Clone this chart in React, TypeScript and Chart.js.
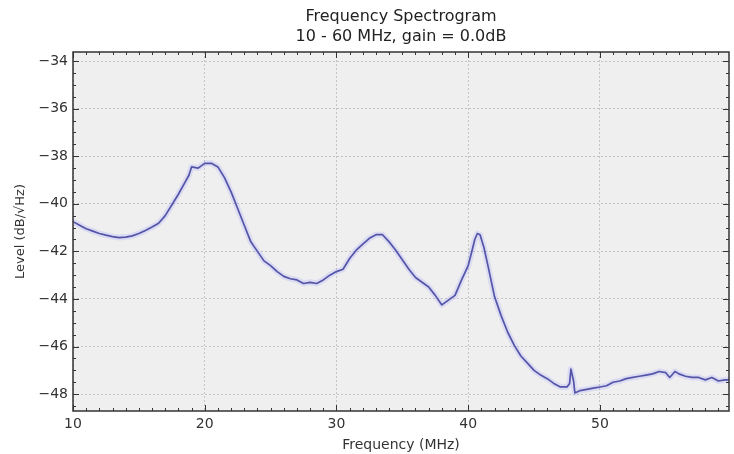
import React, { useEffect, useRef } from "react";
import { Chart, registerables } from "chart.js";

Chart.register(...registerables);

// Frequency (MHz) and level (dB/√Hz)
const freqMHz = [
  10.0, 10.5, 11.0, 11.5, 12.0, 12.5, 13.0, 13.5, 14.0, 14.5,
  15.0, 15.5, 16.0, 16.5, 17.0, 17.5, 18.0, 18.5, 18.8, 19.0,
  19.5, 20.0, 20.5, 21.0, 21.5, 22.0, 22.5, 23.0, 23.5, 24.0,
  24.5, 25.0, 25.5, 26.0, 26.5, 27.0, 27.5, 28.0, 28.5, 29.0,
  29.5, 30.0, 30.5, 31.0, 31.5, 32.0, 32.5, 33.0, 33.5, 34.0,
  34.5, 35.0, 35.5, 36.0, 36.5, 37.0, 37.5, 38.0, 38.5, 39.0,
  39.5, 40.0, 40.3, 40.5, 40.7, 40.9, 41.2, 41.5, 42.0, 42.5, 43.0, 43.5,
  44.0, 44.5, 45.0, 45.5, 46.0, 46.5, 47.0, 47.5, 47.7, 47.8,
  48.0, 48.1, 48.5, 49.0, 49.5, 50.0, 50.5, 51.0, 51.5, 52.0,
  52.5, 53.0, 53.5, 54.0, 54.5, 55.0, 55.3, 55.7, 56.0, 56.5,
  57.0, 57.5, 58.0, 58.5, 59.0, 59.5, 59.8,
];
const levelDb = [
  -40.75, -40.9, -41.05, -41.15, -41.25, -41.32, -41.38, -41.42, -41.4, -41.35,
  -41.25, -41.12, -40.98, -40.82, -40.5, -40.05, -39.6, -39.1, -38.8, -38.45,
  -38.5, -38.3, -38.3, -38.45, -38.9, -39.5, -40.2, -40.9, -41.6, -42.0,
  -42.4, -42.6, -42.85, -43.05, -43.15, -43.2, -43.35, -43.3, -43.35, -43.2,
  -43.0, -42.85, -42.75, -42.3, -41.95, -41.7, -41.45, -41.3, -41.3, -41.6,
  -41.95, -42.35, -42.75, -43.1, -43.3, -43.5, -43.85, -44.25, -44.05, -43.85,
  -43.2, -42.6, -41.95, -41.5, -41.25, -41.3, -41.85, -42.6, -43.9, -44.7, -45.4, -45.95,
  -46.4, -46.7, -47.0, -47.2, -47.35, -47.55, -47.7, -47.7, -47.55, -46.95,
  -47.45, -47.95, -47.85, -47.8, -47.75, -47.7, -47.65, -47.5, -47.45, -47.35,
  -47.3, -47.25, -47.2, -47.15, -47.05, -47.1, -47.3, -47.05, -47.15, -47.25,
  -47.3, -47.3, -47.4, -47.3, -47.45, -47.4, -47.4,
];

const xTickValues = [10, 20, 30, 40, 50];
const yTickValues = [-34, -36, -38, -40, -42, -44, -46, -48];

const titleLines = ["Frequency Spectrogram", "10 - 60 MHz, gain = 0.0dB"];
const xLabel = "Frequency (MHz)";
const yLabel = "Level (dB/\u221AHz)";

const FONT = "'DejaVu Sans', sans-serif";

const plotBackground = {
  id: "plotBackground",
  beforeDraw(chart: any) {
    const { ctx, chartArea: a } = chart;
    ctx.save();
    ctx.fillStyle = "#efefef";
    ctx.fillRect(a.left, a.top, a.right - a.left, a.bottom - a.top);
    ctx.restore();
  },
};

const frameTicks = {
  id: "frameTicks",
  afterDraw(chart: any) {
    const { ctx, chartArea: a, scales } = chart;
    const xs = scales.x;
    const ys = scales.y;
    ctx.save();
    ctx.strokeStyle = "#333";
    ctx.lineWidth = 1;
    const seg = (x1: number, y1: number, x2: number, y2: number) => {
      ctx.beginPath();
      ctx.moveTo(x1, y1);
      ctx.lineTo(x2, y2);
      ctx.stroke();
    };
    for (let v = Math.ceil(xs.min); v <= xs.max; v += 1) {
      const px = Math.round(xs.getPixelForValue(v)) + 0.5;
      const len = v % 10 === 0 ? 6 : 3;
      seg(px, a.bottom, px, a.bottom - len);
      seg(px, a.top, px, a.top + len);
    }
    for (let v = -48.5; v <= ys.max; v += 0.5) {
      const py = Math.round(ys.getPixelForValue(v)) + 0.5;
      const len = Math.abs(v % 2) < 1e-6 ? 6 : 3;
      seg(a.left, py, a.left + len, py);
      seg(a.right, py, a.right - len, py);
    }
    ctx.lineWidth = 1.5;
    ctx.strokeRect(a.left, a.top, a.right - a.left, a.bottom - a.top);
    ctx.restore();
  },
};

export default function App() {
  const ref = useRef<HTMLCanvasElement | null>(null);

  useEffect(() => {
    if (!ref.current) return;
    const points = freqMHz.map((f, i) => ({ x: f, y: levelDb[i] }));
    const chart = new Chart(ref.current, {
      type: "line",
      data: {
        datasets: [
          {
            data: points,
            borderColor: "#5454a8",
            borderWidth: 1.7,
            borderJoinStyle: "round",
            pointRadius: 0,
            tension: 0,
            order: 0,
          },
          {
            data: points,
            borderColor: "rgba(150,150,255,0.22)",
            borderWidth: 6,
            borderJoinStyle: "round",
            borderCapStyle: "round",
            pointRadius: 0,
            tension: 0,
            order: 1,
          },
        ],
      },
      options: {
        responsive: false,
        animation: false,
        devicePixelRatio: 1,
        layout: { padding: { left: 0, right: 5, top: 0, bottom: 0 } },
        plugins: {
          legend: { display: false },
          tooltip: { enabled: false },
          title: {
            display: true,
            fullSize: false,
            text: titleLines,
            color: "#222",
            font: { family: FONT, size: 16, weight: "normal", lineHeight: 1.25 },
            padding: { top: 7, bottom: 5 },
          },
        },
        scales: {
          x: {
            type: "linear",
            min: 10,
            max: 59.8,
            afterBuildTicks: (s: any) => {
              s.ticks = xTickValues.map((v) => ({ value: v }));
            },
            afterFit: (s: any) => {
              s.height = 43;
            },
            grid: { color: "#c4c4c4", lineWidth: 1, drawTicks: false },
            border: { display: false, dash: [2, 2] },
            ticks: {
              color: "#333",
              padding: 5,
              maxRotation: 0,
              font: { family: FONT, size: 14 },
              callback: (v: any) => String(v),
            },
            title: {
              display: true,
              text: xLabel,
              color: "#333",
              font: { family: FONT, size: 14 },
              padding: { top: 0, bottom: 0 },
            },
          },
          y: {
            type: "linear",
            min: -48.71,
            max: -33.62,
            afterBuildTicks: (s: any) => {
              s.ticks = yTickValues.map((v) => ({ value: v }));
            },
            afterFit: (s: any) => {
              s.width = 73;
            },
            grid: { color: "#c4c4c4", lineWidth: 1, drawTicks: false },
            border: { display: false, dash: [2, 2] },
            ticks: {
              color: "#333",
              padding: 5,
              font: { family: FONT, size: 14 },
              callback: (v: any) => String(v).replace("-", "\u2212"),
            },
            title: {
              display: true,
              text: yLabel,
              color: "#333",
              font: { family: FONT, size: 13 },
              padding: 13,
            },
          },
        },
      },
      plugins: [plotBackground, frameTicks],
    });
    return () => chart.destroy();
  }, []);

  return (
    <div style={{ position: "absolute", left: 0, top: 0, width: 734, height: 454, background: "#fff" }}>
      <canvas ref={ref} width={734} height={454} style={{ display: "block", width: 734, height: 454 }} />
    </div>
  );
}
